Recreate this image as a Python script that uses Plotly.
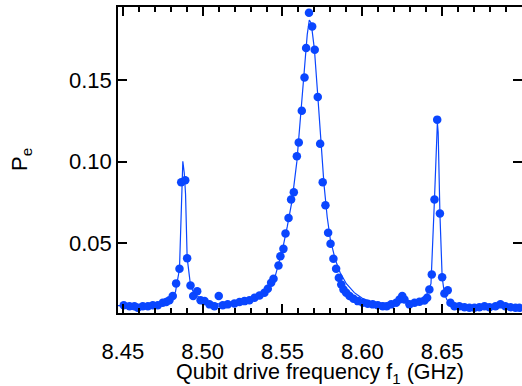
import plotly.graph_objects as go

freq_ghz = [
    8.4506, 8.4542, 8.4573, 8.4594, 8.4625, 8.4657, 8.4688, 8.4719, 8.4750, 8.4772,
    8.4792, 8.4813, 8.4834, 8.4855, 8.4866, 8.4891, 8.4903, 8.4924, 8.4941, 8.4966,
    8.4987,
    8.5012, 8.5043, 8.5074, 8.5101, 8.5126, 8.5157, 8.5199, 8.5231, 8.5262, 8.5293,
    8.5325, 8.5356, 8.5387, 8.5408, 8.5429, 8.5444, 8.5475, 8.5487, 8.5506, 8.5519,
    8.5538, 8.5554, 8.5571, 8.5590, 8.5602, 8.5621, 8.5638, 8.5648, 8.5666, 8.5686,
    8.5702, 8.5721, 8.5736, 8.5752, 8.5769, 8.5786, 8.5801, 8.5819, 8.5836, 8.5853,
    8.5868, 8.5882, 8.5899, 8.5920, 8.5945, 8.5972, 8.6003, 8.6034, 8.6065, 8.6097,
    8.6128, 8.6153,
    8.6181, 8.6212, 8.6233, 8.6250, 8.6264, 8.6295, 8.6327, 8.6358, 8.6389, 8.6406,
    8.6420, 8.6435, 8.6452, 8.6469, 8.6486, 8.6500, 8.6514, 8.6535, 8.6552, 8.6577,
    8.6608, 8.6640, 8.6671, 8.6702, 8.6733, 8.6765, 8.6796, 8.6834, 8.6865, 8.6896,
    8.6928, 8.6959, 8.6984,
]
pe_measured = [
    0.0118, 0.0112, 0.0112, 0.0102, 0.0112, 0.0112, 0.0118, 0.0118, 0.0133, 0.0137,
    0.0149, 0.0174, 0.0252, 0.0342, 0.0873, 0.0885, 0.0407, 0.0239, 0.0174, 0.0204,
    0.0149,
    0.0143, 0.0123, 0.0112, 0.0174, 0.0117, 0.0123, 0.0129, 0.0137, 0.0143, 0.0149,
    0.0164, 0.0178, 0.0194, 0.0219, 0.0256, 0.0280, 0.0362, 0.0419, 0.0464, 0.0558,
    0.0654, 0.0767, 0.0812, 0.1033, 0.1118, 0.1313, 0.1517, 0.1698, 0.1914, 0.1830,
    0.1687, 0.1397, 0.1110, 0.0873, 0.0732, 0.0563, 0.0495, 0.0403, 0.0342, 0.0287,
    0.0245, 0.0215, 0.0194, 0.0174, 0.0158, 0.0143, 0.0133, 0.0127, 0.0123, 0.0118,
    0.0112, 0.0112,
    0.0123, 0.0133, 0.0153, 0.0174, 0.0153, 0.0123, 0.0133, 0.0139, 0.0147, 0.0164,
    0.0215, 0.0307, 0.0767, 0.1258, 0.0681, 0.0290, 0.0190, 0.0210, 0.0133, 0.0112,
    0.0112, 0.0106, 0.0102, 0.0102, 0.0106, 0.0112, 0.0106, 0.0112, 0.0123, 0.0112,
    0.0106, 0.0102, 0.0102,
]

# Theory curve
fit_freq = [
    8.447, 8.460, 8.470, 8.475, 8.480, 8.483, 8.4855, 8.4866, 8.4876, 8.4885,
    8.4893, 8.4903, 8.4924, 8.4945, 8.497, 8.500, 8.505, 8.510, 8.520, 8.530,
    8.535, 8.540, 8.545, 8.550, 8.553, 8.556, 8.559, 8.562, 8.564, 8.5655,
    8.5668, 8.568, 8.570, 8.572, 8.574, 8.576, 8.578, 8.580, 8.583, 8.586,
    8.590, 8.595, 8.600, 8.605, 8.610, 8.615, 8.620, 8.623, 8.625, 8.627,
    8.630, 8.635, 8.640, 8.643, 8.6452, 8.6466, 8.6470, 8.6475, 8.6486, 8.6500,
    8.6514, 8.653, 8.656, 8.660, 8.680, 8.700,
]
fit_pe = [
    0.0115, 0.0112, 0.0118, 0.0128, 0.0150, 0.0200, 0.0340, 0.0750, 0.1002, 0.0930,
    0.0800, 0.0410, 0.0240, 0.0190, 0.0172, 0.0150, 0.0132, 0.0126, 0.0128, 0.0148,
    0.0168, 0.0205, 0.0280, 0.0460, 0.0600, 0.0760, 0.1000, 0.1330, 0.1600, 0.1780,
    0.1870, 0.1850, 0.1690, 0.1420, 0.1130, 0.0860, 0.0660, 0.0520, 0.0400, 0.0320,
    0.0250, 0.0195, 0.0160, 0.0142, 0.0132, 0.0128, 0.0132, 0.0148, 0.0165, 0.0152,
    0.0140, 0.0146, 0.0175, 0.0250, 0.0770, 0.1180, 0.1240, 0.1180, 0.0680, 0.0290,
    0.0190, 0.0150, 0.0125, 0.0113, 0.0108, 0.0106,
]

x_ticks = [8.45, 8.50, 8.55, 8.60, 8.65]
x_ticklabels = ["8.45", "8.50", "8.55", "8.60", "8.65"]
y_ticks = [0.05, 0.10, 0.15]
y_ticklabels = ["0.05", "0.10", "0.15"]
x_title = "Qubit drive frequency f<sub>1</sub> (GHz)"
y_title = "P<sub>e</sub>"

blue = "#0A46FF"
font_family = "Arial, Liberation Sans, sans-serif"

fig = go.Figure()
fig.add_trace(go.Scatter(
    x=freq_ghz, y=pe_measured, mode="markers",
    marker=dict(color=blue, size=8.5, line=dict(width=0)),
    cliponaxis=False,
    showlegend=False,
))
fig.add_trace(go.Scatter(
    x=fit_freq, y=fit_pe, mode="lines",
    line=dict(color=blue, width=1.2),
    showlegend=False,
))

fig.update_layout(
    width=522, height=386,
    margin=dict(l=118, r=0, t=7, b=73),
    paper_bgcolor="white", plot_bgcolor="white",
    font=dict(family=font_family, color="black", size=22),
    xaxis=dict(
        range=[8.447, 8.700],
        tickvals=x_ticks, ticktext=x_ticklabels,
        ticks="inside", ticklen=9, tickwidth=1.5, tickcolor="black",
        minor=dict(dtick=0.01, tick0=8.45, ticks="inside", ticklen=5,
                   tickwidth=1.5, tickcolor="black"),
        showline=True, linecolor="black", linewidth=1.5, mirror="ticks",
        showgrid=False, zeroline=False, automargin=False,
        tickfont=dict(size=22), ticklabelstandoff=18,
    ),
    yaxis=dict(
        range=[0.007, 0.195],
        tickvals=y_ticks, ticktext=y_ticklabels,
        ticks="inside", ticklen=9, tickwidth=1.5, tickcolor="black",
        showline=True, linecolor="black", linewidth=1.5, mirror="ticks",
        showgrid=False, zeroline=False, automargin=False,
        tickfont=dict(size=22),
    ),
    annotations=[
        dict(text=x_title, xref="paper", yref="paper", x=0.5, y=0,
             xanchor="center", yanchor="middle", yshift=-60, showarrow=False,
             font=dict(size=21.5)),
        dict(text=y_title, xref="paper", yref="paper", x=0, y=0.5,
             xanchor="center", yanchor="middle", xshift=-97, showarrow=False,
             textangle=-90, font=dict(size=22)),
    ],
)

fig.write_html("out.html", config={"displayModeBar": False},
               post_script="document.body.style.margin='0px';")
